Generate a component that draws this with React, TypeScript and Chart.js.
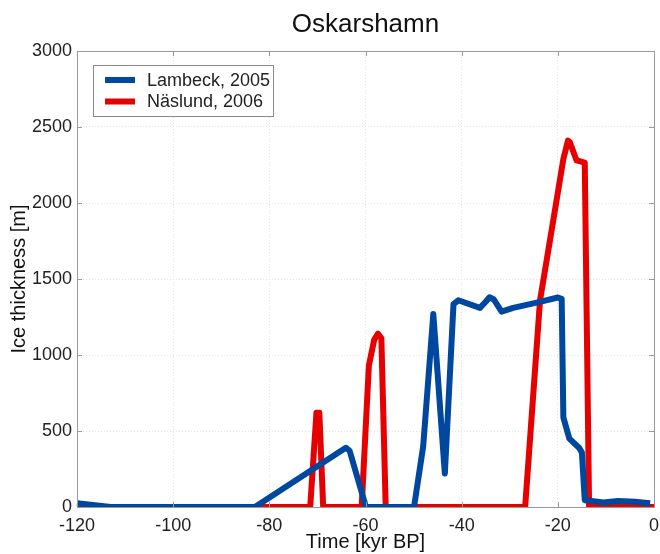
import React, { useEffect, useRef } from "react";
import { Chart, registerables } from "chart.js";
Chart.register(...registerables);

const lambeckTime = [-120, -113, -83, -64.1, -63.3, -59.9, -49.9, -48.0, -45.9, -43.5, -41.7, -40.7, -36.2, -35.0, -34.2, -33.3, -31.7, -29.3, -24.4, -20.0, -19.2, -18.85, -17.6, -15.6, -15.0, -14.4, -13.0, -10.5, -7.5, -4.0, -0.8];
const lambeckIce = [25, 0, 0, 390, 370, 0, 0, 400, 1270, 220, 1335, 1360, 1310, 1350, 1380, 1365, 1285, 1310, 1345, 1378, 1370, 590, 450, 390, 360, 45, 40, 30, 40, 35, 25];

const naslundTime = [-120, -71.5, -70.2, -69.6, -68.8, -60.8, -59.3, -58.2, -57.4, -56.7, -55.8, -26.8, -23.7, -20.2, -18.85, -17.9, -17.5, -16.1, -14.4, -13.5, 0];
const naslundIce = [0, 0, 620, 620, 0, 0, 930, 1100, 1140, 1110, 0, 0, 1360, 2030, 2290, 2410, 2400, 2280, 2265, 0, 0];

const xTickValues = [-120, -100, -80, -60, -40, -20, 0];
const yTickValues = [0, 500, 1000, 1500, 2000, 2500, 3000];

const chartTitle = "Oskarshamn";
const seriesLabels = ["Lambeck, 2005", "Näslund, 2006"];
const seriesColors = ["#0047a0", "#e60000"];

const FONT = "'Liberation Sans', Arial, Helvetica, sans-serif";

const framePlugin = {
  id: "frame",
  afterDatasetsDraw(chart: any) {
    const { ctx, chartArea } = chart;
    const { left, right, top, bottom } = chartArea;
    const xs = chart.scales.x;
    const ys = chart.scales.y;
    ctx.save();
    ctx.strokeStyle = "#9a9a9a";
    ctx.lineWidth = 1;
    ctx.beginPath();
    const tl = 5;
    xTickValues.forEach((v) => {
      const px = Math.round(xs.getPixelForValue(v)) + 0.5;
      ctx.moveTo(px, bottom);
      ctx.lineTo(px, bottom - tl);
      ctx.moveTo(px, top);
      ctx.lineTo(px, top + tl);
    });
    yTickValues.forEach((v) => {
      const py = Math.round(ys.getPixelForValue(v)) + 0.5;
      ctx.moveTo(left, py);
      ctx.lineTo(left + tl, py);
      ctx.moveTo(right, py);
      ctx.lineTo(right - tl, py);
    });
    ctx.stroke();
    ctx.strokeRect(Math.round(left) + 0.5, Math.round(top) + 0.5, Math.round(right - left), Math.round(bottom - top));
    ctx.restore();

    // title centred over the plot area
    ctx.save();
    ctx.fillStyle = "#111111";
    ctx.font = `26px ${FONT}`;
    ctx.textAlign = "center";
    ctx.textBaseline = "middle";
    ctx.fillText(chartTitle, (left + right) / 2, 25);
    ctx.restore();

    // legend box
    const bx = 93, by = 65, bw = 180, bh = 51;
    ctx.save();
    ctx.fillStyle = "#ffffff";
    ctx.fillRect(bx, by, bw, bh);
    ctx.strokeStyle = "#8a8a8a";
    ctx.lineWidth = 1;
    ctx.strokeRect(bx + 0.5, by + 0.5, bw, bh);
    ctx.font = `18px ${FONT}`;
    ctx.textBaseline = "middle";
    chart.data.datasets.forEach((ds: any, i: number) => {
      const yy = by + 15 + i * 21.5;
      ctx.strokeStyle = ds.borderColor;
      ctx.lineWidth = 6;
      ctx.beginPath();
      ctx.moveTo(bx + 12, yy);
      ctx.lineTo(bx + 42, yy);
      ctx.stroke();
      ctx.fillStyle = "#222222";
      ctx.fillText(ds.label, bx + 54, yy + 1);
    });
    ctx.restore();
  },
};

export default function App() {
  const ref = useRef<HTMLCanvasElement | null>(null);
  useEffect(() => {
    if (!ref.current) return;
    const chart = new Chart(ref.current, {
      type: "line",
      data: {
        datasets: [
          {
            label: seriesLabels[0],
            data: lambeckTime.map((t, i) => ({ x: t, y: lambeckIce[i] })),
            borderColor: seriesColors[0],
            backgroundColor: seriesColors[0],
            borderWidth: 6,
            pointRadius: 0,
            tension: 0,
            borderJoinStyle: "round",
            clip: { left: 3, top: 3, right: 3, bottom: 0 } as any,
          },
          {
            label: seriesLabels[1],
            data: naslundTime.map((t, i) => ({ x: t, y: naslundIce[i] })),
            borderColor: seriesColors[1],
            backgroundColor: seriesColors[1],
            borderWidth: 6,
            pointRadius: 0,
            tension: 0,
            borderJoinStyle: "round",
            clip: { left: 3, top: 3, right: 3, bottom: 0 } as any,
          },
        ],
      },
      options: {
        responsive: false,
        animation: false,
        layout: { padding: { top: 51, right: 6, bottom: 0, left: 0 } },
        plugins: {
          legend: { display: false },
          tooltip: { enabled: false },
          title: { display: false },
        },
        scales: {
          x: {
            type: "linear",
            min: -120,
            max: 0,
            afterBuildTicks: (s: any) => {
              s.ticks = xTickValues.map((v) => ({ value: v }));
            },
            afterFit: (s: any) => {
              s.height = 47;
              s.paddingLeft = 0;
              s.paddingRight = 0;
            },
            ticks: {
              color: "#222222",
              font: { family: FONT, size: 18 },
              padding: 8,
              maxRotation: 0,
              autoSkip: false,
              callback: (v: any) => String(v),
            },
            grid: { color: "#e2e2e2", drawTicks: false, lineWidth: 1 },
            border: { display: false, dash: [1, 2] },
            title: {
              display: true,
              text: "Time [kyr BP]",
              color: "#111111",
              font: { family: FONT, size: 20 },
              padding: { top: 0, bottom: 0 },
            },
          },
          y: {
            type: "linear",
            min: 0,
            max: 3000,
            afterBuildTicks: (s: any) => {
              s.ticks = yTickValues.map((v) => ({ value: v }));
            },
            afterFit: (s: any) => {
              s.width = 77;
              s.paddingTop = 0;
              s.paddingBottom = 0;
            },
            ticks: {
              color: "#222222",
              font: { family: FONT, size: 18 },
              padding: 5,
              autoSkip: false,
              callback: (v: any) => String(v),
            },
            grid: { color: "#e2e2e2", drawTicks: false, lineWidth: 1 },
            border: { display: false, dash: [1, 2] },
            title: {
              display: true,
              text: "Ice thickness [m]",
              color: "#111111",
              font: { family: FONT, size: 20 },
              padding: { top: 7, bottom: 0 },
            },
          },
        },
      },
      plugins: [framePlugin],
    } as any);
    return () => chart.destroy();
  }, []);
  return (
    <div style={{ position: "fixed", left: 0, top: 0, width: 660, height: 554, background: "#fff" }}>
      <canvas ref={ref} width={660} height={554} style={{ display: "block", width: 660, height: 554 }} />
    </div>
  );
}
